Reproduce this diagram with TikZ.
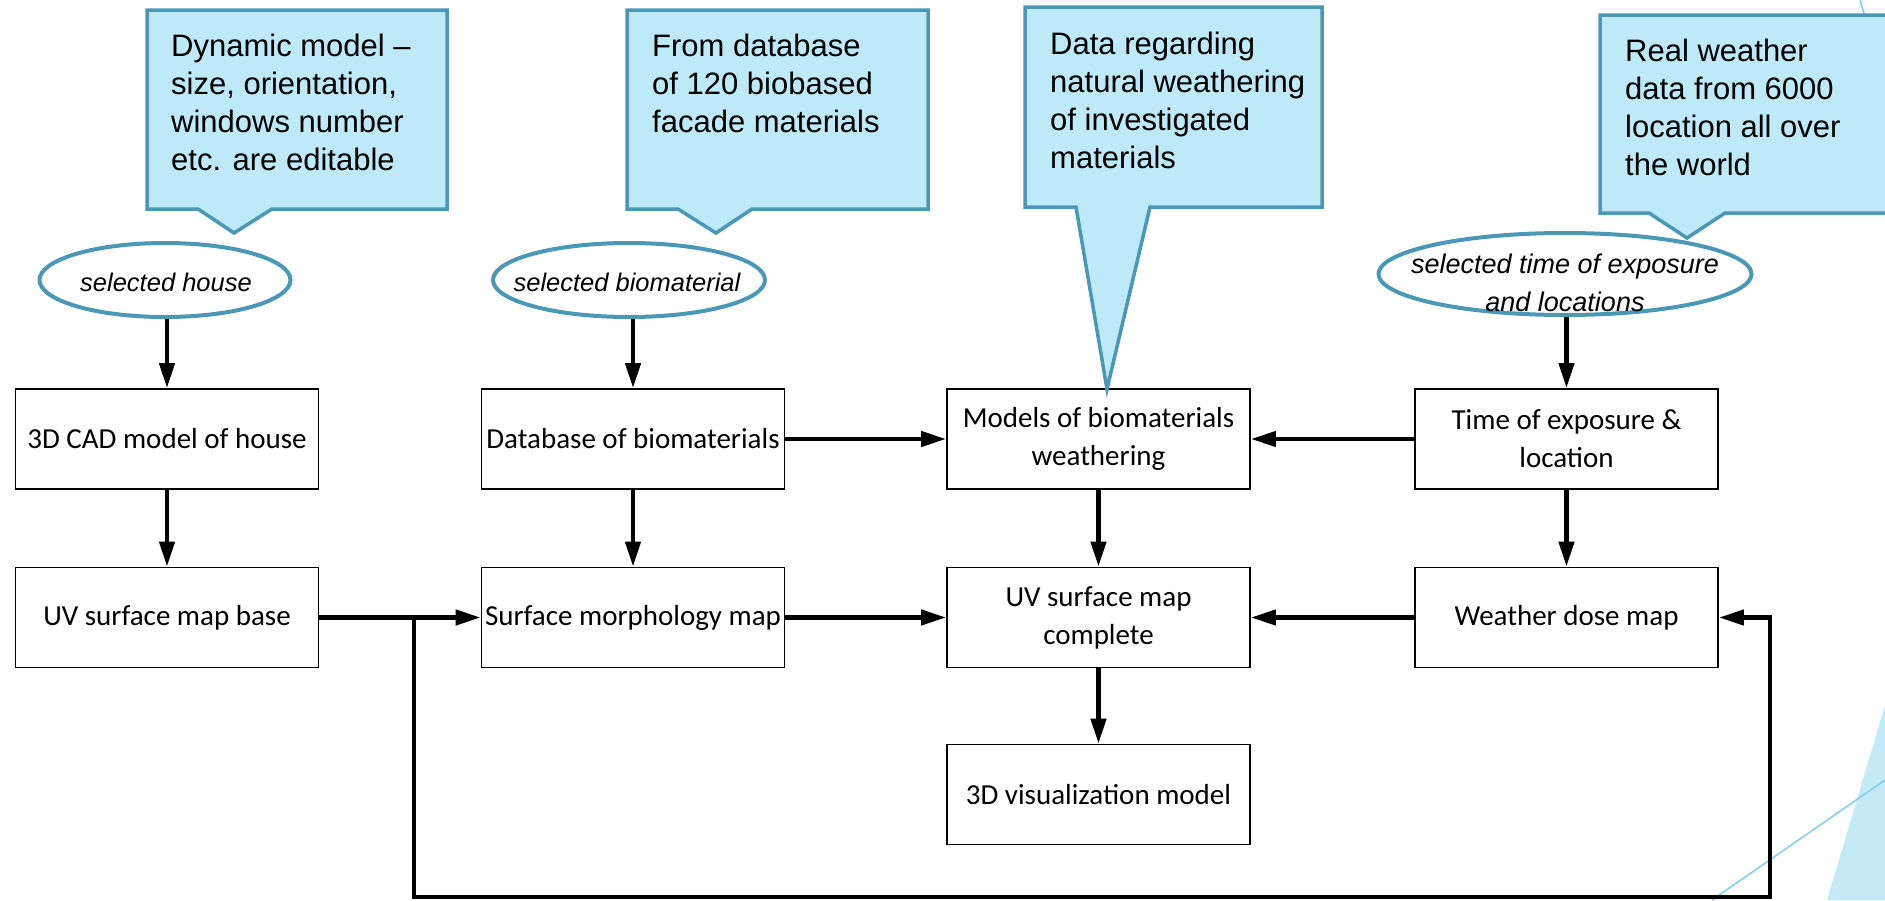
\documentclass[tikz,border=0pt]{standalone}
\usepackage{fontspec}
\setmainfont{Liberation Sans}
\newfontfamily\boxfont{Carlito}
\usetikzlibrary{arrows.meta,shapes.geometric}
\definecolor{callfill}{RGB}{190,233,248}
\definecolor{calldraw}{RGB}{74,152,181}
\definecolor{decofill}{RGB}{197,234,247}
\definecolor{decoline}{RGB}{125,206,238}
\tikzset{
  procbox/.style={draw=black, line width=1.8pt, minimum width=303pt, minimum height=100pt,
    inner sep=1pt, align=center, font=\boxfont\fontsize{29}{38}\selectfont},
  callout/.style={draw=calldraw, fill=callfill, line width=3.5pt, line join=miter},
  calltext/.style={anchor=north west, inner sep=0pt, align=left, font=\fontsize{31}{38}\selectfont},
  inputell/.style={ellipse, draw=calldraw, fill=white, line width=4pt, inner sep=0pt},
  elltext/.style={inner sep=0pt, align=center, font=\itshape\fontsize{25.5}{38}\selectfont},
  flow/.style={line width=4.5pt, line join=miter, -{Triangle[length=25pt,width=15pt]}},
  decoln/.style={draw=decoline, line width=1.5pt},
}
\begin{document}
\begin{tikzpicture}[x=1pt,y=-1pt]
\useasboundingbox (0,0) rectangle (1885,900);
\clip (0,0) rectangle (1885,900);

% slide decorations
\fill[decofill] (1827,900) -- (1885,705) -- (1885,900) -- cycle;
\draw[decoln] (1712,900) -- (1885,780);
\draw[decoln] (1860,0) -- (1872,40);

% process boxes
\node[procbox] (b1) at (167,439) {3D CAD model of house};
\node[procbox] (b2) at (167,617.5) {UV surface map base};
\node[procbox] (db) at (633,439) {Database of biomaterials};
\node[procbox] (morph) at (633,617.5) {Surface morphology map};
\node[procbox] (models) at (1098.5,439) {Models of biomaterials\\weathering};
\node[procbox] (uvc) at (1098.5,617.5) {UV surface map\\complete};
\node[procbox] (time) at (1566.5,439) {Time of exposure \&\\location};
\node[procbox] (dose) at (1566.5,617.5) {Weather dose map};
\node[procbox] (viz) at (1098.5,794.5) {3D visualization model};

% input ellipses
\node[inputell, minimum width=251pt, minimum height=74pt] (e1) at (165,280) {};
\node[elltext] (e1t) at (166,282) {selected house};
\node[inputell, minimum width=272pt, minimum height=74pt] (e2) at (629,280) {};
\node[elltext] (e2t) at (627,282) {selected biomaterial};
\node[inputell, minimum width=373pt, minimum height=82pt] (e3) at (1565,274) {};
\node[elltext, font=\itshape\fontsize{27}{38}\selectfont] (e3t) at (1565,283) {selected time of exposure\\and locations};

% callouts
\draw[callout] (147,10) -- (447,10) -- (447,209) -- (272,209) -- (234,233) -- (198,209) -- (147,209) -- cycle;
\node[calltext] (c1) at (171,34) {Dynamic model –\\size, orientation,\\windows number\\etc. are editable};

\draw[callout] (627,10) -- (928,10) -- (928,209) -- (752,209) -- (716,233) -- (678,209) -- (627,209) -- cycle;
\node[calltext] (c2) at (652,34) {From database\\of 120 biobased\\facade materials};

\draw[callout] (1025,7) -- (1322,7) -- (1322,207) -- (1150,207) -- (1107,389) -- (1076,207) -- (1025,207) -- cycle;
\node[calltext] (c3) at (1050,32) {Data regarding\\natural weathering\\of investigated\\materials};

\draw[callout] (1600,15) -- (1910,15) -- (1910,213) -- (1725,213) -- (1687,238) -- (1649,213) -- (1600,213) -- cycle;
\node[calltext] (c4) at (1625,39) {Real weather\\data from 6000\\location all over\\the world};

% connectors
\draw[flow] (e1.south -| b1.north) -- (b1.north);
\draw[flow] (e2.south -| db.north) -- (db.north);
\draw[flow] (e3.south -| time.north) -- (time.north);
\draw[flow] (b1.south) -- (b2.north);
\draw[flow] (db.south) -- (morph.north);
\draw[flow] (models.south) -- (uvc.north);
\draw[flow] (time.south) -- (dose.north);
\draw[flow] (uvc.south) -- (viz.north);
\draw[flow] (db.east) -- (models.west);
\draw[flow] (time.west) -- (models.east);
\draw[flow] (b2.east) -- (morph.west);
\draw[flow] (morph.east) -- (uvc.west);
\draw[flow] (dose.west) -- (uvc.east);

% feedback loop
\path (b2.east) -- (morph.west) coordinate[pos=0.586] (j);
\coordinate (fb1) at (414,897);
\coordinate (fb2) at (1770,897);
\draw[flow] (j) -- (j |- fb1) -- (fb2) -- (fb2 |- dose.east) -- (dose.east);
\end{tikzpicture}
\end{document}
